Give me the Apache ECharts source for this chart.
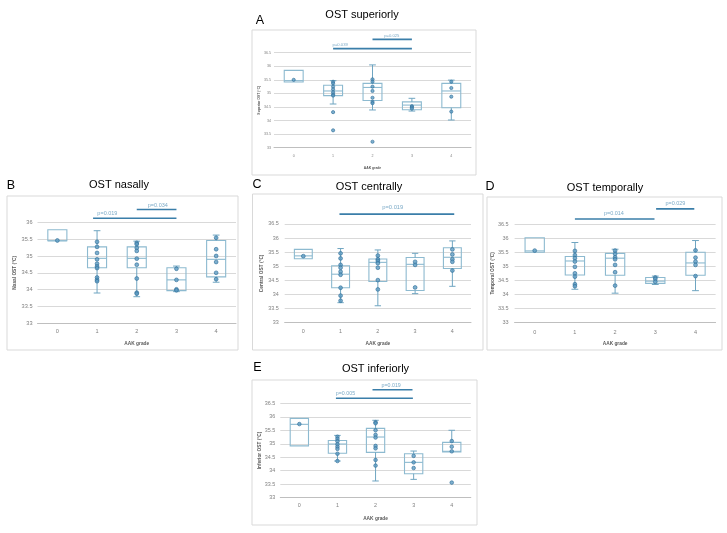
<!DOCTYPE html>
<html>
<head>
<meta charset="utf-8">
<script src="https://cdn.jsdelivr.net/npm/echarts@6/dist/echarts.min.js"></script>
<style>html,body{margin:0;padding:0;background:#fff;}#c{width:727px;height:533px;}</style>
</head>
<body>
<div id="c"></div>
<script>
const categories = ['0', '1', '2', '3', '4'];

// box stats per AAK grade: [min, Q1, median, Q3, max]
const boxSuperior = [
  [35.42, 35.42, 35.47, 35.85, 35.85],
  [34.61, 34.92, 35.09, 35.30, 35.47],
  [34.39, 34.74, 35.22, 35.37, 36.05],
  [34.35, 34.40, 34.57, 34.69, 34.82],
  [34.02, 34.47, 35.09, 35.37, 35.49]
];
const pointsSuperior = [
  [35.50],
  [35.43, 35.37, 35.25, 35.15, 35.04, 34.96, 34.92, 34.31, 33.64],
  [35.52, 35.43, 35.25, 35.09, 34.84, 34.69, 34.64, 33.22],
  [34.53, 34.49, 34.44],
  [35.43, 35.20, 34.88, 34.33]
];
const pSuperior = [[1, 3, 36.65, 1.18, 'p=0.039'], [2, 3, 36.99, 2.49, 'p=0.025']];

const boxNasal = [
  [35.45, 35.45, 35.45, 35.78, 35.78],
  [33.90, 34.65, 34.93, 35.27, 35.75],
  [33.79, 34.65, 34.93, 35.27, 35.44],
  [33.94, 33.97, 34.29, 34.65, 34.70],
  [34.22, 34.38, 34.90, 35.46, 35.62]
];
const pointsNasal = [
  [35.46],
  [35.42, 35.27, 35.09, 34.90, 34.77, 34.69, 34.64, 34.36, 34.29, 34.25],
  [35.39, 35.35, 35.24, 35.15, 34.92, 34.74, 34.33, 33.91, 33.88],
  [34.62, 34.29, 34.01, 33.98],
  [35.54, 35.20, 35.00, 34.82, 34.50, 34.31]
];
const pNasal = [[0.9, 3, 36.12, 1.26, 'p=0.019'], [2, 3, 36.38, 2.53, 'p=0.034']];

const boxCentral = [
  [35.27, 35.27, 35.37, 35.60, 35.60],
  [33.71, 34.24, 34.72, 35.02, 35.63],
  [33.60, 34.46, 35.14, 35.26, 35.58],
  [34.03, 34.14, 35.07, 35.31, 35.46],
  [34.29, 34.92, 35.32, 35.66, 35.90]
];
const pointsCentral = [
  [35.36],
  [35.46, 35.28, 35.05, 34.95, 34.81, 34.70, 34.24, 33.96, 33.78],
  [35.38, 35.25, 35.19, 35.11, 34.95, 34.51, 34.18],
  [35.16, 35.05, 34.25],
  [35.60, 35.42, 35.25, 35.16, 34.85]
];
const pCentral = [[0.97, 4.05, 36.85, 2.4, 'p=0.019']];

const boxTemporal = [
  [35.50, 35.50, 35.55, 36.02, 36.02],
  [34.18, 34.69, 35.19, 35.35, 35.85],
  [34.04, 34.68, 35.29, 35.46, 35.61],
  [34.35, 34.39, 34.47, 34.60, 34.65],
  [34.13, 34.68, 35.12, 35.50, 35.92]
];
const pointsTemporal = [
  [35.56],
  [35.55, 35.40, 35.29, 35.17, 34.98, 34.75, 34.63, 34.36, 34.29],
  [35.56, 35.44, 35.32, 35.25, 35.05, 34.79, 34.31],
  [34.60, 34.55, 34.45],
  [35.57, 35.31, 35.17, 35.05, 34.65]
];
const pTemporal = [[1, 2.98, 36.69, 1.97, 'p=0.014'], [3.02, 3.97, 37.05, 3.5, 'p=0.029']];

const boxInferior = [
  [34.92, 34.92, 35.72, 35.94, 35.94],
  [34.36, 34.65, 34.99, 35.12, 35.31],
  [33.62, 34.68, 35.25, 35.57, 35.87],
  [33.68, 33.89, 34.31, 34.63, 34.73],
  [34.70, 34.70, 34.72, 35.05, 35.50]
];
const pointsInferior = [
  [35.73],
  [35.26, 35.18, 35.09, 34.98, 34.89, 34.81, 34.63, 34.36],
  [35.80, 35.76, 35.50, 35.33, 35.23, 34.92, 34.83, 34.40, 34.19],
  [34.55, 34.31, 34.10],
  [35.10, 34.89, 34.72, 33.56]
];
const pInferior = [[0.96, 2.98, 36.69, 1.21, 'p=0.005'], [1.92, 2.97, 37.0, 2.41, 'p=0.019']];

const FONT = 'Liberation Sans, Arial, sans-serif';
const panels = [
  {letter: 'A', title: 'OST superiorly', yName: 'Superior OST (°C)', box: boxSuperior, pts: pointsSuperior, p: pSuperior, yMax: 36.5,
   grid: {left: 274, top: 52.7, width: 197, height: 95}, tick: 3.6, nm: 3.4, yGap: 13, xGap: 18.5, xMargin: 6, yMargin: 3, pFont: 4.2, pDist: 1.5,
   titleXY: [362, 14.5], letterXY: [260, 21], frame: [252, 30, 224, 145], pt: 3.2},
  {letter: 'B', title: 'OST nasally', yName: 'Nasal OST (°C)', box: boxNasal, pts: pointsNasal, p: pNasal, yMax: 36,
   grid: {left: 37.5, top: 222.3, width: 198.5, height: 101}, tick: 5.6, nm: 4.8, yGap: 20, xGap: 18, xMargin: 5.5, yMargin: 5, pFont: 5.5, pDist: 1.5,
   titleXY: [119, 185], letterXY: [11, 186], frame: [7, 196, 231, 154], pt: 3.8},
  {letter: 'C', title: 'OST centrally', yName: 'Central OST (°C)', box: boxCentral, pts: pointsCentral, p: pCentral, yMax: 36.5,
   grid: {left: 284.7, top: 224, width: 186.3, height: 98.7}, tick: 5.4, nm: 4.8, yGap: 21, xGap: 18.5, xMargin: 6, yMargin: 6, pFont: 5.8, pDist: 4,
   titleXY: [369, 186.7], letterXY: [257, 185], frame: [252.5, 194, 230.5, 156], pt: 3.8},
  {letter: 'D', title: 'OST temporally', yName: 'Temporal OST (°C)', box: boxTemporal, pts: pointsTemporal, p: pTemporal, yMax: 36.5,
   grid: {left: 514.6, top: 224.3, width: 201, height: 98}, tick: 5.5, nm: 4.8, yGap: 19.5, xGap: 18.5, xMargin: 7, yMargin: 6, pFont: 5.5, pDist: 2,
   titleXY: [605, 188.3], letterXY: [490, 187], frame: [487, 197, 235, 153], pt: 3.8},
  {letter: 'E', title: 'OST inferiorly', yName: 'Inferior OST (°C)', box: boxInferior, pts: pointsInferior, p: pInferior, yMax: 36.5,
   grid: {left: 280.3, top: 403.3, width: 190.5, height: 94.4}, tick: 5.4, nm: 4.8, yGap: 18.5, xGap: 18, xMargin: 5.5, yMargin: 5, pFont: 5.3, pDist: 2,
   titleXY: [375.5, 369], letterXY: [257.5, 368], frame: [252, 380, 225, 145], pt: 3.6}
];

const BOX_COLOR = '#8dbad0';
const WHISK_COLOR = '#6fa5c1';
const PT_FILL = '#5d9bc2';
const PT_BORDER = '#2f6e99';
const PLINE_COLOR = '#3a7ea9';
const PTEXT_COLOR = '#5a95b9';

function renderBox(params, api) {
  const x = api.value(0);
  const vmin = api.value(1), q1 = api.value(2), med = api.value(3), q3 = api.value(4), vmax = api.value(5);
  const band = api.size([1, 0])[0];
  const bw = band * 0.48, cw = band * 0.17;
  const cx = api.coord([x, med])[0];
  const yMin = api.coord([x, vmin])[1], yQ1 = api.coord([x, q1])[1], yMed = api.coord([x, med])[1];
  const yQ3 = api.coord([x, q3])[1], yMax = api.coord([x, vmax])[1];
  const ls = {stroke: BOX_COLOR, lineWidth: 1.1, fill: null};
  const ws = {stroke: WHISK_COLOR, lineWidth: 1, fill: null};
  const children = [
    {type: 'rect', shape: {x: cx - bw / 2, y: yQ3, width: bw, height: yQ1 - yQ3}, style: ls},
    {type: 'line', shape: {x1: cx - bw / 2, y1: yMed, x2: cx + bw / 2, y2: yMed}, style: ls}
  ];
  if (vmax > q3) {
    children.push({type: 'line', shape: {x1: cx, y1: yQ3, x2: cx, y2: yMax}, style: ws});
    children.push({type: 'line', shape: {x1: cx - cw / 2, y1: yMax, x2: cx + cw / 2, y2: yMax}, style: ws});
  }
  if (vmin < q1) {
    children.push({type: 'line', shape: {x1: cx, y1: yQ1, x2: cx, y2: yMin}, style: ws});
    children.push({type: 'line', shape: {x1: cx - cw / 2, y1: yMin, x2: cx + cw / 2, y2: yMin}, style: ws});
  }
  return {type: 'group', children: children};
}

const grids = [], xAxes = [], yAxes = [], series = [], graphics = [];
panels.forEach((pn, i) => {
  grids.push(Object.assign({show: false, containLabel: false, outerBoundsMode: 'none'}, pn.grid));
  xAxes.push({
    type: 'category', gridIndex: i, data: categories, boundaryGap: true,
    axisLine: {show: true, lineStyle: {color: '#bfbfbf', width: 1}},
    axisTick: {show: false},
    axisLabel: {fontSize: pn.tick, color: '#808080', margin: pn.xMargin, fontFamily: FONT},
    splitLine: {show: false},
    name: 'AAK grade', nameLocation: 'middle', nameGap: pn.xGap, nameMoveOverlap: false,
    nameTextStyle: {fontSize: pn.nm, color: '#595959', fontWeight: 'bold', fontFamily: FONT}
  });
  xAxes.push({type: 'value', gridIndex: i, min: -0.5, max: 4.5, show: false});
  yAxes.push({
    type: 'value', gridIndex: i, min: 33, max: pn.yMax, interval: 0.5,
    axisLine: {show: false}, axisTick: {show: false},
    axisLabel: {fontSize: pn.tick, color: '#808080', margin: pn.yMargin, fontFamily: FONT},
    splitLine: {show: true, lineStyle: {color: '#d9d9d9', width: 1}},
    name: pn.yName, nameLocation: 'middle', nameGap: pn.yGap, nameRotate: 90, nameMoveOverlap: false,
    nameTextStyle: {fontSize: pn.nm, color: '#595959', fontWeight: 'bold', fontFamily: FONT}
  });
  series.push({
    type: 'custom', xAxisIndex: 2 * i, yAxisIndex: i, renderItem: renderBox, silent: true,
    encode: {x: 0, y: [1, 2, 3, 4, 5]},
    data: pn.box.map((b, k) => [k].concat(b))
  });
  const pts = [];
  pn.pts.forEach((arr, k) => arr.forEach(v => pts.push([k, v])));
  series.push({
    type: 'scatter', xAxisIndex: 2 * i, yAxisIndex: i, data: pts, symbol: 'circle', symbolSize: pn.pt,
    itemStyle: {color: PT_FILL, borderColor: PT_BORDER, borderWidth: 0.8}, silent: true, z: 5
  });
  pn.p.forEach(pp => {
    series.push({
      type: 'line', xAxisIndex: 2 * i + 1, yAxisIndex: i, clip: false, symbol: 'none', silent: true,
      data: [[pp[0], pp[2]], [pp[1], pp[2]]],
      lineStyle: {color: PLINE_COLOR, width: 1.6}
    });
    series.push({
      type: 'scatter', xAxisIndex: 2 * i + 1, yAxisIndex: i, clip: false, symbolSize: 0, silent: true,
      data: [[pp[3], pp[2]]],
      label: {show: true, position: 'top', distance: pn.pDist, formatter: pp[4], fontSize: pn.pFont, color: PTEXT_COLOR, fontFamily: FONT}
    });
  });
  graphics.push({type: 'rect', shape: {x: pn.frame[0], y: pn.frame[1], width: pn.frame[2], height: pn.frame[3]},
    style: {fill: null, stroke: '#d9d9d9', lineWidth: 1}, silent: true, z: -1});
  graphics.push({type: 'text', x: pn.titleXY[0], y: pn.titleXY[1],
    style: {text: pn.title, fontSize: 11, fontFamily: FONT, fill: '#000', align: 'center', verticalAlign: 'middle'}});
  graphics.push({type: 'text', x: pn.letterXY[0], y: pn.letterXY[1],
    style: {text: pn.letter, fontSize: 12.5, fontFamily: FONT, fill: '#000', align: 'center', verticalAlign: 'middle'}});
});

const chart = echarts.init(document.getElementById('c'), null, {renderer: 'canvas', width: 727, height: 533});
chart.setOption({
  animation: false,
  backgroundColor: '#ffffff',
  grid: grids,
  xAxis: xAxes,
  yAxis: yAxes,
  series: series,
  graphic: graphics
});
</script>
</body>
</html>
